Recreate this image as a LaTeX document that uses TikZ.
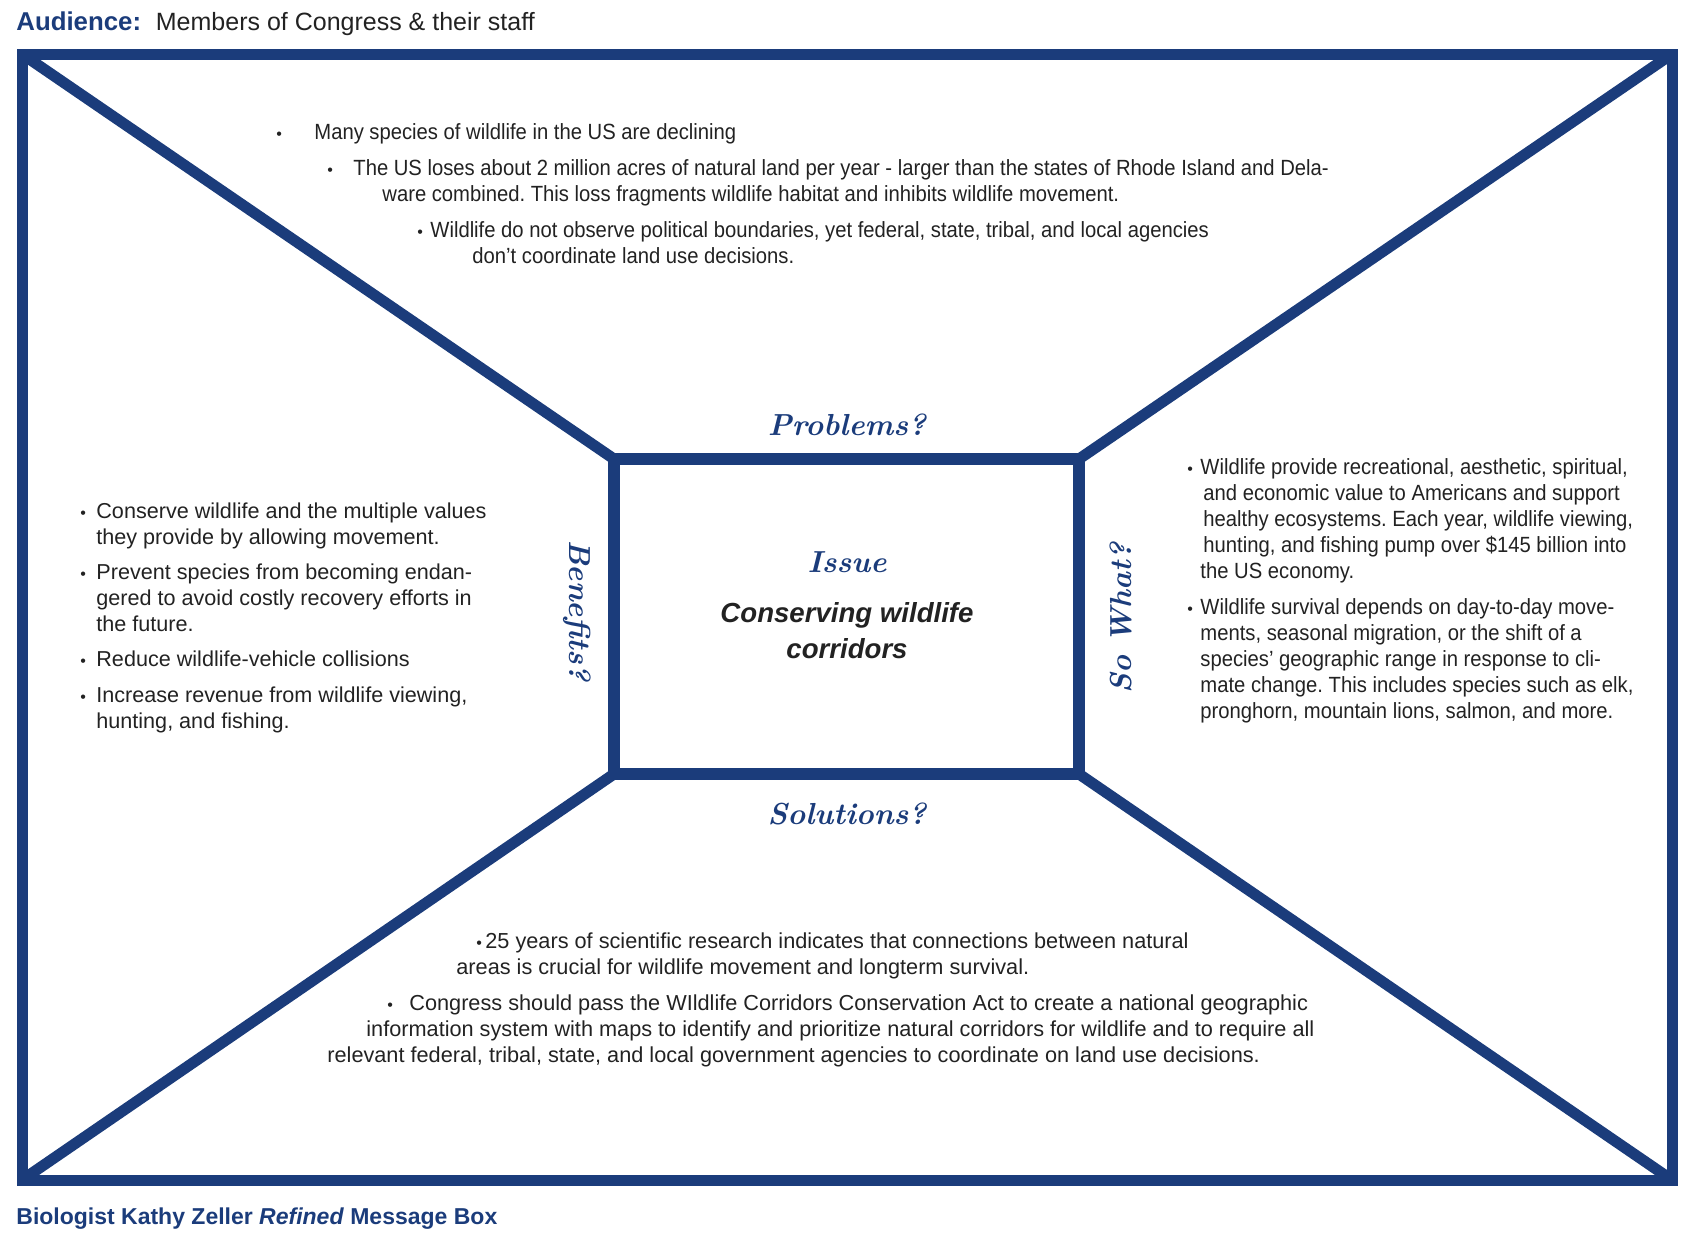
\documentclass[tikz,border=0pt]{standalone}
\usepackage{fontspec}
\newfontfamily\bodyfont{Liberation Sans}
\newfontfamily\condfont[FakeStretch=0.92]{Liberation Sans}
\usetikzlibrary{positioning}
\definecolor{navy}{HTML}{1B3C7B}
\definecolor{ink}{HTML}{222222}
\frenchspacing
\tikzset{
  frame/.style={draw=navy,line width=5.5pt,outer sep=0pt,inner sep=0pt},
  spoke/.style={draw=navy,line width=5.5pt},
  head/.style={font=\bfseries\itshape\fontsize{15.2}{18}\selectfont,text=navy,inner sep=0pt},
  leftln/.style={font=\bodyfont\fontsize{10.8}{13}\selectfont,text=ink,anchor=base west,inner sep=0pt},
  condln/.style={font=\condfont\fontsize{11}{13}\selectfont,text=ink,anchor=base west,inner sep=0pt},
  botln/.style={font=\bodyfont\fontsize{10.85}{13}\selectfont,text=ink,anchor=base west,inner sep=0pt},
  dot/.style={font=\bodyfont\fontsize{8}{8}\selectfont,text=ink,anchor=base west,inner sep=0pt},
  caption/.style={font=\bodyfont\bfseries\fontsize{#1}{15}\selectfont,text=navy,anchor=base west,inner sep=0pt},
}

\begin{document}
\begin{tikzpicture}[x=0.5pt,y=-0.5pt]
  \useasboundingbox (0,0) rectangle (1700,1248);
  % message box
  \node[frame,minimum width=825pt,minimum height=563pt] (box) at (847,617) {};
  \node[frame,line width=6pt,minimum width=232.5pt,minimum height=157.5pt] (issue) at (846.5,616.5) {};
  \foreach \c in {north west,north east,south west,south east}{ \draw[spoke] (box.\c) -- (issue.\c); }

  % audience and credit
  \node[caption=12.9] (aud) at (16,30) {Audience:};
  \node[anchor=base west,inner sep=0pt,font=\bodyfont\fontsize{12.5}{15}\selectfont,text=ink,base right=7pt of aud] (audtxt) {Members of Congress \& their staff};
  \node[caption=11.5] (credit) at (16,1224) {Biologist Kathy Zeller \textit{Refined} Message Box};

  % headings
  \node[head,anchor=base] (prob) at (847,435) {Problems?};
  \node[head,anchor=base] (sol) at (847,824) {Solutions?};
  \node[head,rotate=-90] (ben) at (577,611) {Benefits?};
  \node[head,rotate=90] (sowhat) at (1121,618) {So What?};

  % issue
  \node[head,anchor=base] (iss) at (847,572) {Issue};
  \node[font=\bodyfont\bfseries\itshape\fontsize{13.8}{18}\selectfont,text=ink,anchor=base,inner sep=0pt] (topic1) at (847,622) {Conserving wildlife};
  \node[font=\bodyfont\bfseries\itshape\fontsize{13.8}{18}\selectfont,text=ink,anchor=base,inner sep=0pt] (topic2) at (847,658) {corridors};

  % problems
  \foreach \x/\y [count=\i] in {276/139,327/175,417/237}{ \node[dot] (pd\i) at (\x,\y) {•}; }
  \foreach \x/\y/\t [count=\i] in {
      314/139/{Many species of wildlife in the US are declining},
      353/175/{The US loses about 2 million acres of natural land per year - larger than the states of Rhode Island and Dela-},
      382/201/{ware combined. This loss fragments wildlife habitat and inhibits wildlife movement.},
      430/237/{Wildlife do not observe political boundaries, yet federal, state, tribal, and local agencies},
      472/263/{don’t coordinate land use decisions.}}{
    \node[condln] (p\i) at (\x,\y) {\t};
  }

  % benefits
  \foreach \y [count=\i] in {518,579,666,702}{ \node[dot] (bd\i) at (80,\y) {•}; }
  \foreach \y/\t [count=\i] in {
      518/{Conserve wildlife and the multiple values},
      544/{they provide by allowing movement.},
      579/{Prevent species from becoming endan-},
      605/{gered to avoid costly recovery efforts in},
      631/{the future.},
      666/{Reduce wildlife-vehicle collisions},
      702/{Increase revenue from wildlife viewing,},
      728/{hunting, and fishing.}}{
    \node[leftln] (b\i) at (96,\y) {\t};
  }

  % so what
  \foreach \y [count=\i] in {474,614}{ \node[dot] (wd\i) at (1187,\y) {•}; }
  \foreach \x/\y/\t [count=\i] in {
      1200/474/{Wildlife provide recreational, aesthetic, spiritual,},
      1203/500/{and economic value to Americans and support},
      1203/526/{healthy ecosystems. Each year, wildlife viewing,},
      1203/552/{hunting, and fishing pump over \$145 billion into},
      1200/578/{the US economy.},
      1200/614/{Wildlife survival depends on day-to-day move-},
      1200/640/{ments, seasonal migration, or the shift of a},
      1200/666/{species’ geographic range in response to cli-},
      1200/692/{mate change. This includes species such as elk,},
      1200/718/{pronghorn, mountain lions, salmon, and more.}}{
    \node[condln] (w\i) at (\x,\y) {\t};
  }

  % solutions
  \foreach \x/\y [count=\i] in {476/948,387/1010}{ \node[dot] (sd\i) at (\x,\y) {•}; }
  \foreach \x/\y/\t [count=\i] in {
      485/948/{25 years of scientific research indicates that connections between natural},
      456/974/{areas is crucial for wildlife movement and longterm survival.},
      409/1010/{Congress should pass the WIldlife Corridors Conservation Act to create a national geographic},
      366/1036/{information system with maps to identify and prioritize natural corridors for wildlife and to require all},
      327/1062/{relevant federal, tribal, state, and local government agencies to coordinate on land use decisions.}}{
    \node[botln] (s\i) at (\x,\y) {\t};
  }
\end{tikzpicture}
\end{document}
